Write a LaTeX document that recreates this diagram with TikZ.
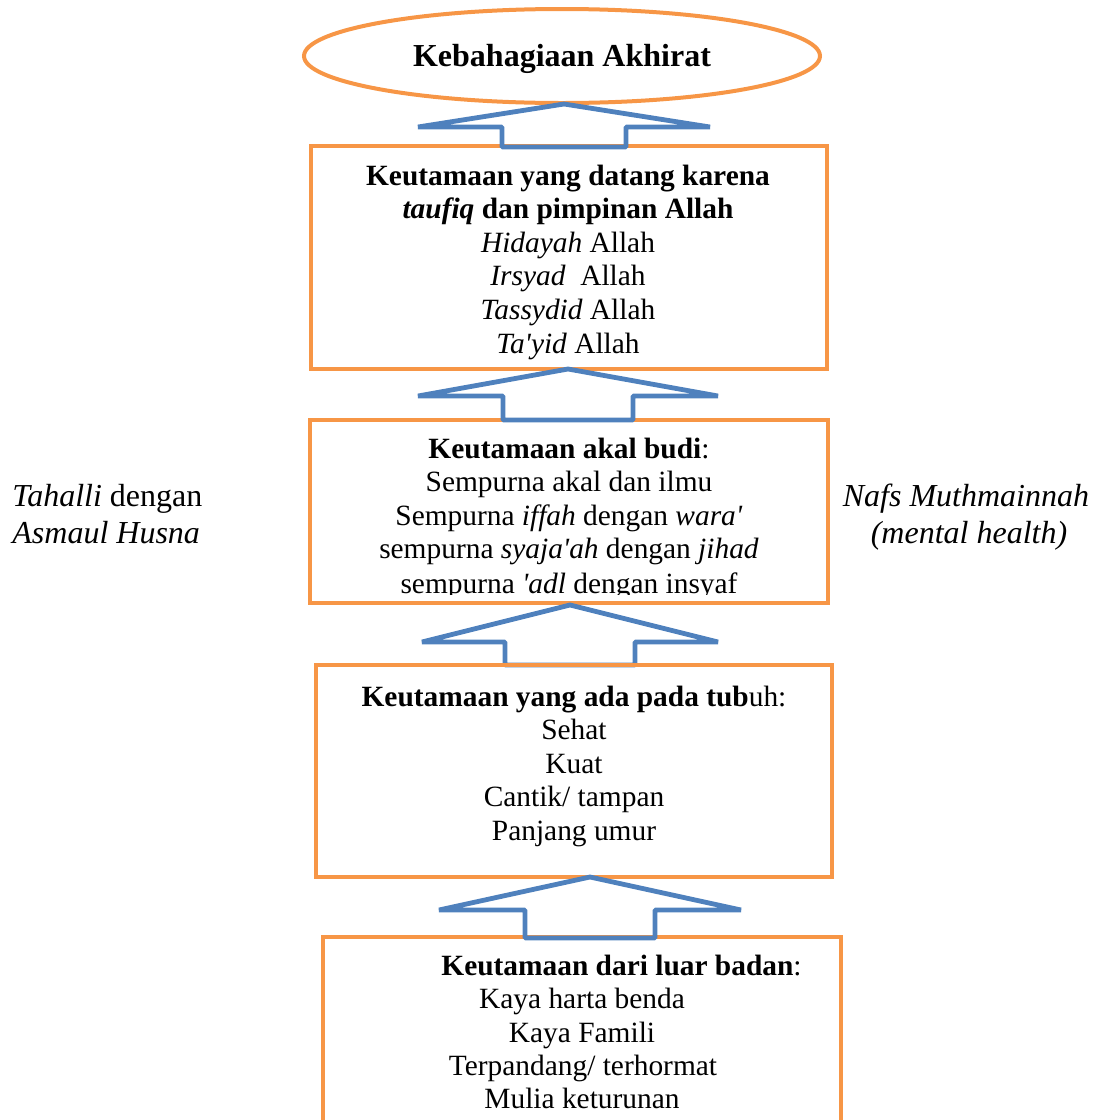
\documentclass[tikz,border=0pt]{standalone}
\usepackage{fontspec}
\setmainfont{Liberation Serif}
\usetikzlibrary{shapes.geometric}
\definecolor{orng}{HTML}{F79646}
\definecolor{blu}{HTML}{4F81BD}
\tikzset{
  box/.style={draw=orng, line width=2pt, rectangle, inner sep=0pt, outer sep=0pt},
  oval/.style={draw=orng, line width=2pt, ellipse, inner sep=0pt, outer sep=0pt},
  barrow/.style={draw=blu, line width=2.4pt, line join=bevel},
  txt/.style={anchor=base, inner sep=0pt, font=\fontsize{14.7}{16.8}\selectfont},
  bigtxt/.style={txt, font=\fontsize{16}{18}\selectfont},
  lbigtxt/.style={bigtxt, anchor=base west},
}
% #1 tip x, #2 tip y, #3 wing dy, #4 wing half width, #5 shaft half width, #6 bottom dy
\newcommand\blockarr[6]{%
  \draw[barrow] (#1-#5,#2+#6) -- (#1-#5,#2+#3) -- (#1-#4,#2+#3) -- (#1,#2)
    -- (#1+#4,#2+#3) -- (#1+#5,#2+#3) -- (#1+#5,#2+#6) -- cycle;}
\begin{document}
\begin{tikzpicture}[x=0.5pt,y=-0.5pt]
\useasboundingbox (0,0) rectangle (1096,1120);
\begin{scope}
\clip (0,0) rectangle (1096,1120);
% shapes
\node[oval, minimum width=258pt, minimum height=47pt] (top) at (562,56) {};
\node[box, minimum width=258pt, minimum height=111.5pt] (b1) at (569,257.5) {};
\node[box, minimum width=259pt, minimum height=91.5pt] (b2) at (569,511.5) {};
\blockarr{570}{605}{37}{148}{65}{60}
\node[box, minimum width=258pt, minimum height=106pt] (b3) at (574,771) {};
\node[box, minimum width=259pt, minimum height=103pt] (b4) at (582,1040) {};
\blockarr{564}{104}{23}{146}{62}{43}
\blockarr{568}{369}{27}{150}{65}{51}
\blockarr{590}{877}{33}{151}{65}{61}
% ellipse text
\node[bigtxt] (t0) at (562,66) {\textbf{Kebahagiaan Akhirat}};
% box 1
\node[txt] (t11) at (568,185) {\textbf{Keutamaan yang datang karena}};
\node[txt] (t12) at (568,218.6) {\textbf{\textit{taufiq} dan pimpinan Allah}};
\node[txt] (t13) at (568,252.2) {\textit{Hidayah} Allah};
\node[txt] (t14) at (568,285.8) {\textit{Irsyad}\ \ Allah};
\node[txt] (t15) at (568,319.4) {\textit{Tassydid} Allah};
\node[txt] (t16) at (568,353) {\textit{Ta\textquotesingle yid} Allah};
% box 2
\begin{scope}
\clip (310,420) rectangle (828,594);
\node[txt] (t21) at (569,458) {\textbf{Keutamaan akal budi}:};
\node[txt] (t22) at (569,491.6) {Sempurna akal dan ilmu};
\node[txt] (t23) at (569,525.2) {Sempurna \textit{iffah} dengan \textit{wara\textquotesingle}};
\node[txt] (t24) at (569,558.8) {sempurna \textit{syaja\textquotesingle ah} dengan \textit{jihad}};
\node[txt] (t25) at (569,593) {sempurna \textit{\textquotesingle adl} dengan insyaf};
\end{scope}
% box 3
\node[txt] (t31) at (574,706) {\textbf{Keutamaan yang ada pada tub}uh:};
\node[txt] (t32) at (574,739.6) {Sehat};
\node[txt] (t33) at (574,773.2) {Kuat};
\node[txt] (t34) at (574,806.8) {Cantik/ tampan};
\node[txt] (t35) at (574,840.4) {Panjang umur};
% box 4
\node[txt] (t41) at (621.5,975) {\textbf{Keutamaan dari luar badan}:};
\node[txt] (t42) at (582,1008) {Kaya harta benda};
\node[txt] (t43) at (582,1042) {Kaya Famili};
\node[txt] (t44) at (583,1075) {Terpandang/ terhormat};
\node[txt] (t45) at (582,1108) {Mulia keturunan};
% side texts
\node[lbigtxt] (l1) at (12,506) {\textit{Tahalli} dengan};
\node[lbigtxt] (l2) at (12,543) {\textit{Asmaul Husna}};
\node[bigtxt] (r1) at (966,506) {\textit{Nafs Muthmainnah}};
\node[bigtxt] (r2) at (969,543) {\textit{(mental health)}};
\end{scope}
\end{tikzpicture}
\end{document}
